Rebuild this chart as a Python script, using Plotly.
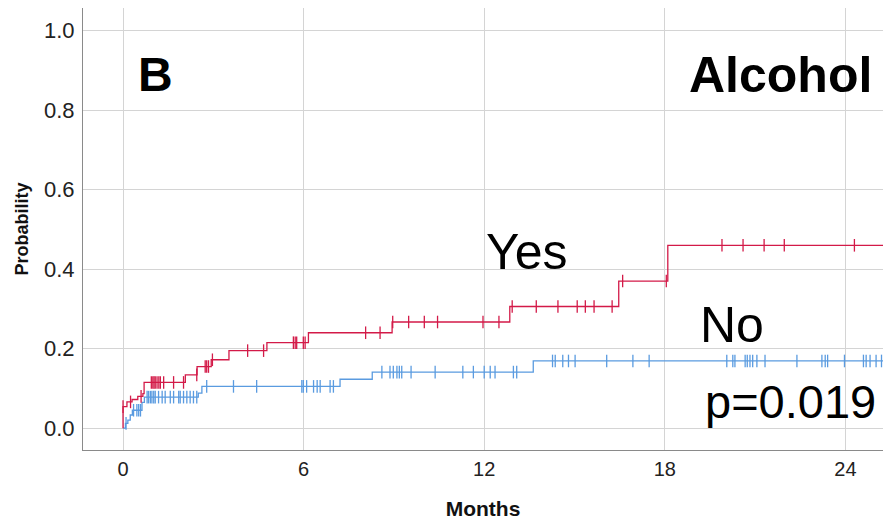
import numpy as np
import plotly.graph_objects as go

# ---- data ----
yes_step_t = [0, 0, 0.13, 0.30, 0.49, 0.66, 0.70, 2.07, 2.46, 2.93, 3.52, 4.78, 6.16, 8.94, 12.85, 16.47, 18.10, 25.3]
yes_step_v = [0, 0.054, 0.066, 0.072, 0.080, 0.087, 0.115, 0.134, 0.155, 0.172, 0.195, 0.215, 0.240, 0.267, 0.306, 0.370, 0.460, 0.460]
yes_cens_t = [0.0, 0.25, 0.60, 0.94, 0.99, 1.03, 1.07, 1.13, 1.19, 1.24, 1.35, 1.68, 2.01, 2.45, 2.73, 2.78, 2.84,
              2.97, 4.14, 4.67, 5.66, 5.72, 5.77, 5.99, 6.05, 8.06, 8.54, 8.96, 9.49, 10.01, 10.45, 11.96, 12.49,
              12.93, 13.73, 14.45, 15.09, 15.36, 15.65, 16.25, 16.60, 18.05, 19.90, 20.60, 21.30, 21.97, 24.30]

no_step_t = [0, 0.08, 0.16, 0.24, 0.31, 0.63, 0.71, 2.50, 2.62, 7.21, 8.28, 13.63, 25.3]
no_step_v = [0, 0.012, 0.020, 0.033, 0.045, 0.065, 0.078, 0.088, 0.105, 0.123, 0.141, 0.169, 0.169]
no_cens_t = [0.10, 0.35, 0.46, 0.52, 0.58, 0.80, 0.85, 0.91, 0.96, 1.02, 1.07, 1.18, 1.30, 1.40, 1.57, 1.68, 1.85,
             1.90, 2.01, 2.12, 2.23, 2.34, 2.45, 2.78, 3.67, 4.44, 5.94, 5.99, 6.10, 6.33, 6.45, 6.55, 6.88, 6.99,
             8.60, 8.87, 8.98, 9.10, 9.18, 9.26, 9.57, 10.37, 11.29, 11.64, 12.00, 12.20, 12.36, 12.97, 13.08,
             14.27, 14.36, 14.61, 14.80, 15.02, 16.07, 16.94, 17.48, 20.06, 20.26, 20.33, 20.67, 20.74, 20.83,
             20.92, 21.06, 21.33, 22.39, 23.22, 23.33, 23.41, 23.97, 24.60, 24.69, 24.82, 25.02, 25.20]

x_ticks = [0, 6, 12, 18, 24]
y_ticks = [0.0, 0.2, 0.4, 0.6, 0.8, 1.0]
y_tick_labels = ["0.0", "0.2", "0.4", "0.6", "0.8", "1.0"]

RED = "#d31a48"
BLUE = "#5a9be0"


def step_value(step_t, step_v, t):
    idx = np.searchsorted(np.array(step_t), t, side="right") - 1
    return [step_v[i] for i in idx]


fig = go.Figure()
for st, sv, ct, col in [(no_step_t, no_step_v, no_cens_t, BLUE), (yes_step_t, yes_step_v, yes_cens_t, RED)]:
    fig.add_trace(go.Scatter(x=st, y=sv, mode="lines", line=dict(color=col, width=1.3, shape="hv"),
                             showlegend=False, hoverinfo="skip"))
    fig.add_trace(go.Scatter(x=ct, y=step_value(st, sv, ct), mode="markers",
                             marker=dict(symbol="line-ns", size=9, line=dict(color=col, width=1.3)),
                             showlegend=False, hoverinfo="skip"))

ARIAL = "Liberation Sans, Arial, sans-serif"

fig.update_layout(
    width=883, height=522,
    margin=dict(l=83, r=0, t=8, b=72),
    paper_bgcolor="white", plot_bgcolor="white",
    xaxis=dict(range=[-1.33, 25.25], tickvals=x_ticks, ticktext=[str(v) for v in x_ticks],
               automargin=False,
               showgrid=True, gridcolor="#d4d4d4", gridwidth=1, zeroline=False,
               showline=True, linecolor="#8a8a8a", linewidth=1.2,
               ticks="", tickfont=dict(family=ARIAL, size=20, color="#222"), ticklabelstandoff=1,
               title=dict(text="<b>Months</b>", font=dict(family=ARIAL, size=21, color="#111"), standoff=22)),
    yaxis=dict(range=[-0.055, 1.057], tickvals=y_ticks, ticktext=y_tick_labels,
               automargin=False,
               showgrid=True, gridcolor="#d4d4d4", gridwidth=1, zeroline=False,
               showline=True, linecolor="#8a8a8a", linewidth=1.2,
               ticks="", tickfont=dict(family=ARIAL, size=22, color="#222"), ticklabelstandoff=3,
               title=dict(text="<b>Probability</b>", font=dict(family=ARIAL, size=18, color="#111"), standoff=10)),
)

annots = [
    ("<b>B</b>", 0.091, 0.849, 48),
    ("<b>Alcohol</b>", 0.872, 0.849, 50),
    ("Yes", 0.555, 0.448, 50),
    ("No", 0.811, 0.283, 50),
    ("p=0.019", 0.884, 0.109, 47),
]
for txt, xp, yp, sz in annots:
    fig.add_annotation(text=txt, xref="paper", yref="paper", x=xp, y=yp, xanchor="center", yanchor="middle",
                       showarrow=False, font=dict(family=ARIAL, size=sz, color="black"))

fig.write_html(
    "out.html",
    config={"displayModeBar": False},
    post_script="document.body.style.margin='0px';document.body.style.overflow='hidden';"
                "document.documentElement.style.overflow='hidden';",
)
